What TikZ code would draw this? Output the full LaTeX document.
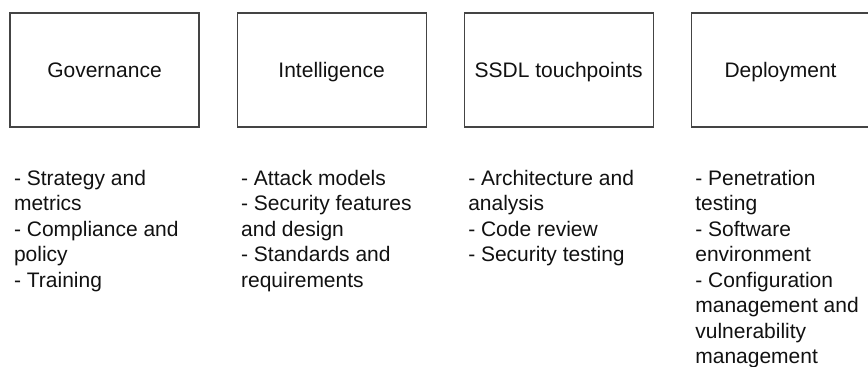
\documentclass[tikz,border=0pt]{standalone}
\usepackage{fontspec}
\setmainfont{Liberation Sans}
\usetikzlibrary{positioning}
\definecolor{borda}{HTML}{444444}
\definecolor{texto}{HTML}{111111}

\begin{document}
\begin{tikzpicture}[x=1pt, y=1pt,
  caixa/.style={draw=borda, line width=1.1pt, minimum width=189pt, minimum height=114pt,
    inner sep=0pt, text height=19pt, text depth=4.5pt, text=texto,
    font=\fontsize{21}{25.5}\selectfont},
  lista/.style={anchor=north west, inner sep=0pt, align=left, text=texto,
    font=\fontsize{21}{25.5}\selectfont}]

\useasboundingbox (0,0) rectangle (868,-367);

% ================= caixas =================
\node[caixa] (gov) at (104.5,-70) {Governance};
\node[caixa, right=37pt of gov] (intel) {Intelligence};
\node[caixa, right=37pt of intel] (ssdl) {SSDL touchpoints};
\node[caixa, minimum width=178.5pt, anchor=west] (depl) at ([xshift=37pt]ssdl.east) {Deployment};

% ================= listas =================
\node[lista] (govlist) at ([xshift=4.4pt, yshift=-42.5pt]gov.south west)
  {- Strategy and\\ metrics\\ - Compliance and\\ policy\\ - Training};
\node[lista] (intellist) at ([xshift=4.4pt, yshift=-42.5pt]intel.south west)
  {- Attack models\\ - Security features\\ and design\\ - Standards and\\ requirements};
\node[lista] (ssdllist) at ([xshift=4.4pt, yshift=-42.5pt]ssdl.south west)
  {- Architecture and\\ analysis\\ - Code review\\ - Security testing};
\node[lista] (depllist) at ([xshift=4.4pt, yshift=-42.5pt]depl.south west)
  {- Penetration\\ testing\\ - Software\\ environment\\ - Configuration\\ management and\\ vulnerability\\ management};

\end{tikzpicture}
\end{document}
